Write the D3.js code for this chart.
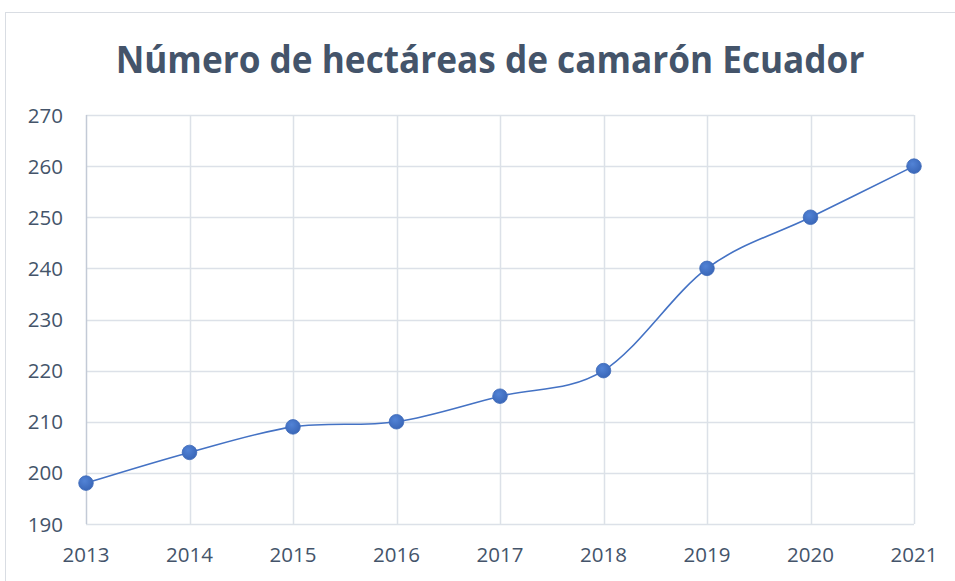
<!DOCTYPE html>
<html>
<head>
<meta charset="utf-8">
<script src="https://cdn.jsdelivr.net/npm/d3@7"></script>
<style>
  body { margin: 0; background: #fff; }
  svg { display: block; }
</style>
</head>
<body>
<svg id="chart" width="955" height="581"></svg>
<script>
// data
let years = [2013, 2014, 2015, 2016, 2017, 2018, 2019, 2020, 2021]
let hectareas = [198, 204, 209, 210, 215, 220, 240, 250, 260]
let yTicks = [190, 200, 210, 220, 230, 240, 250, 260, 270]
let title = 'Número de hectáreas de camarón Ecuador'

let svg = d3.select('#chart')
let textColor = '#44546A'
let font = '"Open Sans", sans-serif'

// outer frame (runs off canvas on the right/bottom)
svg.append('rect')
	.attr('x', 5.5).attr('y', 12.5)
	.attr('width', 1000).attr('height', 700)
	.attr('fill', 'white')
	.attr('stroke', '#D9DDE3').attr('stroke-width', 1)

let x = d3.scalePoint().domain(years).range([86, 914])
let y = d3.scaleLinear().domain([190, 270]).range([524, 115])

// gridlines
let grid = svg.append('g')
grid.selectAll('.hg').data(yTicks).join('line')
	.attr('x1', 86).attr('x2', 914)
	.attr('y1', d => Math.round(y(d)) + 0.5).attr('y2', d => Math.round(y(d)) + 0.5)
	.attr('stroke', '#DCE1E8').attr('stroke-width', 1.5)
grid.selectAll('.vg').data(years.slice(1)).join('line')
	.attr('x1', d => Math.round(x(d)) + 0.5).attr('x2', d => Math.round(x(d)) + 0.5)
	.attr('y1', 115).attr('y2', 524)
	.attr('stroke', '#DCE1E8').attr('stroke-width', 1.5)

// left axis line
svg.append('line')
	.attr('x1', 86.5).attr('x2', 86.5)
	.attr('y1', 115).attr('y2', 524)
	.attr('stroke', '#C3CAD6').attr('stroke-width', 1.5)

// y tick labels
svg.append('g').selectAll('text').data(yTicks).join('text')
	.attr('x', 63).attr('y', d => y(d) + 7.5)
	.attr('text-anchor', 'end')
	.style('font-family', font).style('font-size', '20.5px')
	.style('fill', textColor)
	.text(d => d)

// x tick labels
svg.append('g').selectAll('text').data(years).join('text')
	.attr('x', d => x(d)).attr('y', 562)
	.attr('text-anchor', 'middle')
	.style('font-family', font).style('font-size', '20.5px')
	.style('fill', textColor)
	.text(d => d)

// smoothed line
let line = d3.line()
	.x((d, i) => x(years[i]))
	.y(d => y(d))
	.curve(d3.curveCardinal.tension(0))

svg.append('path')
	.attr('d', line(hectareas))
	.attr('fill', 'none')
	.attr('stroke', '#4472C4').attr('stroke-width', 1.6)

// markers
let grad = svg.append('defs').append('radialGradient')
	.attr('id', 'dot').attr('cx', '40%').attr('cy', '35%').attr('r', '65%')
grad.append('stop').attr('offset', '0%').attr('stop-color', '#5283D6')
grad.append('stop').attr('offset', '100%').attr('stop-color', '#3A67B8')

svg.append('g').selectAll('circle').data(hectareas).join('circle')
	.attr('cx', (d, i) => x(years[i])).attr('cy', d => y(d))
	.attr('r', 7.3)
	.attr('fill', 'url(#dot)')
	.attr('stroke', '#3D6AB9').attr('stroke-width', 0.8)

// title, squeezed horizontally to match the narrow original face
let t = svg.append('text')
	.attr('x', 0).attr('y', 0)
	.attr('text-anchor', 'middle')
	.style('font-family', font).style('font-size', '38px').style('font-weight', 'bold')
	.style('fill', textColor)
	.text(title)
let w = t.node().getComputedTextLength()
let sx = 749 / w
t.attr('transform', `translate(490, 73) scale(${sx}, 1)`)
</script>
</body>
</html>
